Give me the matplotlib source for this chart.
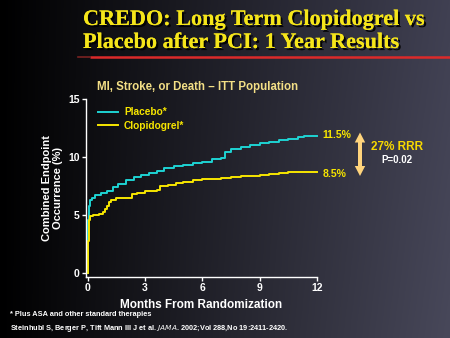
import numpy as np
import matplotlib
matplotlib.use("Agg")
import matplotlib.pyplot as plt
import matplotlib.patheffects as pe
from matplotlib.patches import Polygon

# ---- data ----
placebo_months = [0, 0.02, 0.05, 0.1, 0.2, 0.4, 0.7, 1.0, 1.3, 1.6, 2.0, 2.4, 2.8, 3.2, 3.6,
                  4.0, 4.5, 5.0, 5.5, 6.0, 6.5, 7.0, 7.2, 7.5, 8.0, 8.5, 9.0, 9.5, 10.0,
                  10.5, 11.0, 11.3, 12]
placebo_pct = [0, 4.6, 5.8, 6.3, 6.5, 6.7, 6.9, 7.1, 7.4, 7.7, 8.0, 8.3, 8.5, 8.6, 8.8,
               9.1, 9.2, 9.3, 9.5, 9.6, 9.8, 9.9, 10.4, 10.7, 10.9, 11.0, 11.2, 11.3, 11.5,
               11.6, 11.7, 11.8, 11.8]
clop_months = [0, 0.02, 0.05, 0.1, 0.3, 0.6, 0.8, 0.9, 1.0, 1.1, 1.2, 1.5, 2.2, 2.3, 2.6,
               3.0, 3.6, 3.8, 4.2, 4.6, 5.0, 5.5, 6.0, 6.5, 7.0, 7.5, 8.0, 8.5, 9.0, 9.5,
               10.0, 10.5, 12]
clop_pct = [0, 2.8, 4.6, 4.9, 5.0, 5.1, 5.3, 5.5, 5.8, 6.1, 6.3, 6.45, 6.5, 6.8, 6.9,
            7.1, 7.2, 7.5, 7.6, 7.8, 7.9, 8.0, 8.1, 8.15, 8.2, 8.3, 8.35, 8.4, 8.5, 8.55,
            8.6, 8.7, 8.7]
x_ticks = [0, 3, 6, 9, 12]
y_ticks = [0, 5, 10, 15]
series_names = ["Placebo*", "Clopidogrel*"]
end_labels = ["11.5%", "8.5%"]

CYAN = "#1ed3d3"
YEL = "#f7e600"
TITLE_YEL = "#f5e51a"
SANS = "Liberation Sans"
W, H = 450, 338


def fx(px):
    return px / W


def fy(py):
    return 1 - py / H


fig = plt.figure(figsize=(4.5, 3.38), dpi=100)

# background gradient
bg = fig.add_axes([0, 0, 1, 1])
bg.set_axis_off()
xg = np.linspace(0, 1, 300)
yg = np.linspace(0, 1, 200)
X, Y = np.meshgrid(xg, yg)
t = np.clip(X, 0, 1) ** 1.0
r = 64 * t + 8 * Y * t
g = 64 * t + 8 * Y * t
b = 82 * t + 8 * Y * t
img = np.dstack([r, g, b]) / 255.0
bg.imshow(img, extent=[0, 1, 0, 1], aspect="auto", origin="upper")
bg.set_xlim(0, 1)
bg.set_ylim(0, 1)

# title
shadow = [pe.withSimplePatchShadow(offset=(1.5, -1.5), shadow_rgbFace="black", alpha=0.9), pe.Normal()]
fig.text(fx(83), fy(25), "CREDO: Long Term Clopidogrel vs", fontsize=16,
         family="Liberation Serif", weight="bold", color=TITLE_YEL, va="baseline",
         path_effects=shadow)
fig.text(fx(83), fy(48), "Placebo after PCI: 1 Year Results", fontsize=16,
         family="Liberation Serif", weight="bold", color=TITLE_YEL, va="baseline",
         path_effects=shadow)
bg.plot([fx(90), 1.0], [fy(57), fy(57)], color="#dc2a2a", lw=1.8, solid_capstyle="butt")
bg.plot([fx(78), fx(90)], [fy(57), fy(57)], color="#7a2222", lw=1.2)

# subtitle
fig.text(fx(198), fy(87), "MI, Stroke, or Death \u2013 ITT Population", fontsize=8.3,
         family=SANS, weight="bold", color="#f3df86", ha="center", va="center")

# main axes
ax = fig.add_axes([fx(86), fy(276.7), 231 / W, 177.7 / H])
ax.set_facecolor("none")
ax.plot(placebo_months, placebo_pct, drawstyle="steps-post", color=CYAN, lw=1.4,
        label=series_names[0], clip_on=False)
ax.plot(clop_months, clop_pct, drawstyle="steps-post", color=YEL, lw=1.4,
        label=series_names[1], clip_on=False)
ax.set_xlim(-0.09, 12)
ax.set_ylim(-0.29, 15)
ax.set_xticks(x_ticks)
ax.set_yticks(y_ticks)
for s in ["top", "right"]:
    ax.spines[s].set_visible(False)
for s in ["left", "bottom"]:
    ax.spines[s].set_color("white")
    ax.spines[s].set_linewidth(1.0)
ax.tick_params(colors="white", length=3, width=1.0, labelsize=7.5, pad=1.5)
for lbl in ax.get_xticklabels() + ax.get_yticklabels():
    lbl.set_family(SANS)
    lbl.set_weight("bold")

ax.set_xlabel("Months From Randomization", color="white", family=SANS, weight="bold",
              fontsize=8.5, labelpad=4)
ax.set_ylabel("Combined Endpoint\nOccurrence (%)", color="white", family=SANS, weight="bold",
              fontsize=8, labelpad=4, linespacing=1.1)

leg = ax.legend(loc="upper left", bbox_to_anchor=(0.035, 0.975), frameon=False,
                prop={"family": SANS, "weight": "bold", "size": 7.3},
                handlelength=2.0, handletextpad=0.55, labelspacing=0.3, borderaxespad=0)
for txt in leg.get_texts():
    txt.set_color(YEL)

# end labels
fig.text(fx(322), fy(135), end_labels[0], color=YEL, family=SANS, weight="bold",
         fontsize=7.5, va="center")
fig.text(fx(323), fy(174), end_labels[1], color=YEL, family=SANS, weight="bold",
         fontsize=7.5, va="center")

# double arrow (decoration)
cx, top, bot = 360, 132.5, 176
sw, hw, hl = 2.0, 5.2, 10
pts_px = [(cx, top), (cx + hw, top + hl), (cx + sw, top + hl), (cx + sw, bot - hl),
          (cx + hw, bot - hl), (cx, bot), (cx - hw, bot - hl), (cx - sw, bot - hl),
          (cx - sw, top + hl), (cx - hw, top + hl)]
fig.patches.append(Polygon([(fx(a), fy(b)) for a, b in pts_px], closed=True,
                           transform=fig.transFigure, facecolor="#ffd47c",
                           edgecolor="none"))
fig.text(fx(397), fy(147), "27% RRR", color="#f7d800", family=SANS, weight="bold",
         fontsize=8.5, ha="center", va="center")
fig.text(fx(397), fy(160), "P=0.02", color="white", family=SANS, weight="bold",
         fontsize=7, ha="center", va="center")

# footnotes
fig.text(fx(10), fy(315), "* Plus ASA and other standard therapies", color="white",
         family=SANS, weight="bold", fontsize=5.3, va="center")
fig.text(fx(10), fy(328),
         r"Steinhubl S, Berger P, Tift Mann III J et al. $\it{JAMA}$. 2002;Vol 288,No 19:2411-2420.",
         color="white", family=SANS, weight="bold", fontsize=5.3, va="center")

fig.savefig("out.png", dpi=100)
